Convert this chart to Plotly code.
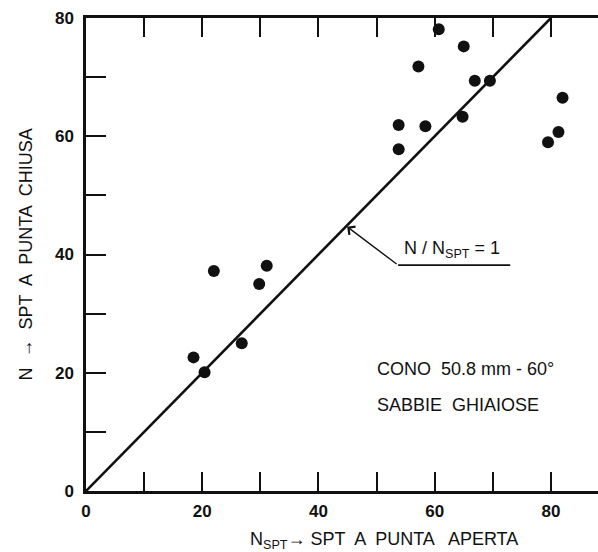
import plotly.graph_objects as go

# Data
n_spt_aperta = [18.5, 20.4, 22.0, 26.8, 29.8, 31.1,
                53.8, 53.8, 57.2, 58.4, 60.7, 64.8, 65.0, 66.9, 69.5,
                79.5, 81.3, 82.0]
n_punta_chiusa = [22.6, 20.1, 37.2, 25.0, 35.0, 38.1,
                  57.8, 61.9, 71.8, 61.7, 78.1, 63.3, 75.2, 69.4, 69.4,
                  59.0, 60.7, 66.5]
ratio_line_x = [0, 80]
ratio_line_y = [0, 80]
tick_vals = [0, 10, 20, 30, 40, 50, 60, 70, 80]
tick_text = ["0", "", "20", "", "40", "", "60", "", "80"]
right_tick_vals = [10, 20, 30, 40, 50, 60, 70]

INK = "#111111"
FONT = "Liberation Sans, Arial, Helvetica, sans-serif"

fig = go.Figure()
fig.add_trace(go.Scatter(x=ratio_line_x, y=ratio_line_y, mode="lines",
                         line=dict(color=INK, width=2.6), showlegend=False,
                         hoverinfo="skip"))
fig.add_trace(go.Scatter(x=n_spt_aperta, y=n_punta_chiusa, mode="markers",
                         marker=dict(color=INK, size=12, line=dict(width=0)),
                         showlegend=False))

fig.update_layout(
    width=598, height=552,
    margin=dict(l=86, r=0, t=18, b=61),
    plot_bgcolor="white", paper_bgcolor="white",
    font=dict(family=FONT, color=INK, size=17),
    xaxis=dict(range=[0, 88.1], tickmode="array", tickvals=tick_vals,
               ticktext=tick_text, ticks="inside", ticklen=19, tickwidth=2,
               tickcolor=INK, showline=True, linewidth=2.5, linecolor=INK,
               mirror="ticks", showgrid=False, zeroline=False,
               tickfont=dict(size=17, weight="bold", family=FONT),
               ticklabelstandoff=3),
    yaxis=dict(range=[0, 80], tickmode="array", tickvals=tick_vals,
               ticktext=tick_text, ticks="inside", ticklen=20, tickwidth=2,
               tickcolor=INK, showline=True, linewidth=2.5, linecolor=INK,
               mirror=False, showgrid=False, zeroline=False,
               tickfont=dict(size=17, weight="bold", family=FONT),
               ticklabelstandoff=6),
    yaxis2=dict(range=[0, 80], overlaying="y", side="right",
                tickmode="array", tickvals=right_tick_vals,
                ticks="inside", ticklen=15, tickwidth=2, tickcolor=INK,
                showticklabels=False, showline=False, showgrid=False,
                zeroline=False),
)

# Arrow pointing to the N/N_SPT = 1 line
fig.add_annotation(x=44.8, y=44.8, ax=53.7, ay=38.2, axref="x", ayref="y",
                   xref="x", yref="y", text="", showarrow=True,
                   arrowhead=4, arrowsize=1.4, arrowwidth=1.4, arrowcolor=INK,
                   standoff=1)
fig.add_shape(type="line", x0=53.7, x1=73.0, y0=38.2, y1=38.2,
              xref="x", yref="y", line=dict(color=INK, width=1.6))
fig.add_annotation(x=63.0, y=38.5, xref="x", yref="y", yanchor="bottom",
                   text="N / N<sub>SPT</sub> = 1", showarrow=False,
                   font=dict(size=18, family=FONT, color=INK))

fig.add_annotation(x=49.7, y=20.6, xref="x", yref="y", xanchor="left",
                   text="CONO  50.8 mm - 60°", showarrow=False,
                   font=dict(size=18, family=FONT, color=INK))
fig.add_annotation(x=49.8, y=14.6, xref="x", yref="y", xanchor="left",
                   text="SABBIE  GHIAIOSE", showarrow=False,
                   font=dict(size=18, family=FONT, color=INK))

# Axis titles
fig.add_annotation(x=51.3, y=-0.104, xref="x", yref="paper", yanchor="middle",
                   text="N<sub>SPT</sub>→ SPT  A  PUNTA   APERTA",
                   showarrow=False, font=dict(size=18, family=FONT, color=INK))
fig.add_annotation(x=-0.119, y=40.0, xref="paper", yref="y", xanchor="center",
                   text="N  →  SPT  A  PUNTA  CHIUSA", textangle=-90,
                   showarrow=False, font=dict(size=18, family=FONT, color=INK))

fig.write_html("out.html")
